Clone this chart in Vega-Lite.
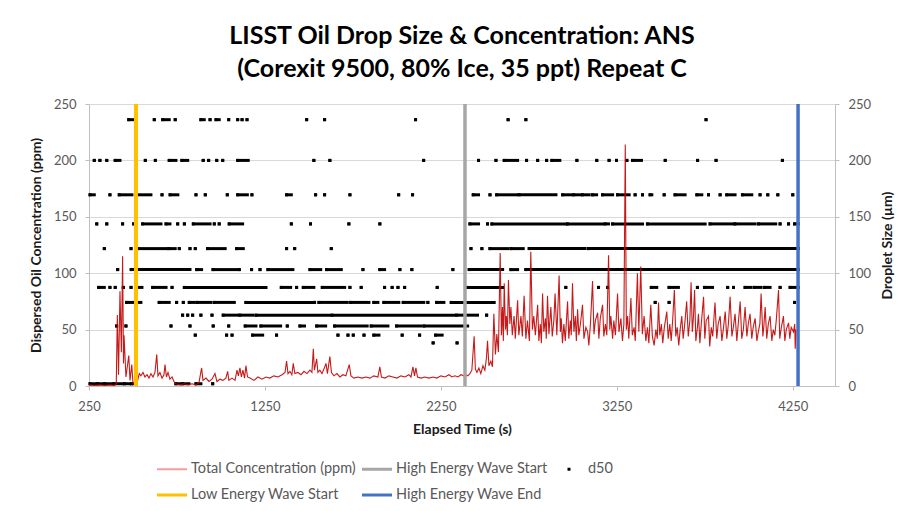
{
"$schema": "https://vega.github.io/schema/vega-lite/v6.json",
"width": 746, "height": 282,
"autosize": {"type": "none"},
"padding": {"left": 89, "top": 104, "right": 69, "bottom": 125},
"background": "white",
"title": {"text": ["LISST Oil Drop Size & Concentration: ANS", "(Corexit 9500, 80% Ice, 35 ppt) Repeat C"], "fontSize": 25, "font": "Lato", "fontWeight": "bold", "color": "#000000", "lineHeight": 33, "offset": 16, "anchor": "middle"},
"config": {"font": "Lato", "view": {"stroke": null},
  "axis": {"domainColor": "#BFBFBF", "tickColor": "#BFBFBF", "tickSize": 4, "labelFontSize": 13, "labelColor": "#595959", "titleFontSize": 14, "titleFontWeight": "bold", "titleColor": "#1a1a1a", "gridColor": "#D9D9D9", "labelPadding": 8, "labelFlush": false}},
"datasets": {
"d50": [
{"t":476,"t2":498,"d":236.1},{"t":621,"t2":621,"d":236.1},{"t":669,"t2":706,"d":236.1},{"t":740,"t2":740,"d":236.1},{"t":886,"t2":905,"d":236.1},{"t":938,"t2":938,"d":236.1},{"t":972,"t2":990,"d":236.1},{"t":1044,"t2":1044,"d":236.1},{"t":1095,"t2":1095,"d":236.1},{"t":1120,"t2":1120,"d":236.1},{"t":1148,"t2":1148,"d":236.1},{"t":1487,"t2":1487,"d":236.1},{"t":1589,"t2":1589,"d":236.1},{"t":2106,"t2":2106,"d":236.1},{"t":2632,"t2":2632,"d":236.1},{"t":2733,"t2":2733,"d":236.1},{"t":3757,"t2":3757,"d":236.1},
{"t":280,"t2":280,"d":200},{"t":312,"t2":312,"d":200},{"t":351,"t2":351,"d":200},{"t":399,"t2":426,"d":200},{"t":570,"t2":570,"d":200},{"t":627,"t2":627,"d":200},{"t":706,"t2":744,"d":200},{"t":778,"t2":811,"d":200},{"t":899,"t2":899,"d":200},{"t":930,"t2":930,"d":200},{"t":976,"t2":976,"d":200},{"t":1010,"t2":1010,"d":200},{"t":1095,"t2":1155,"d":200},{"t":1528,"t2":1528,"d":200},{"t":1619,"t2":1619,"d":200},{"t":2152,"t2":2152,"d":200},{"t":2464,"t2":2464,"d":200},{"t":2563,"t2":2563,"d":200},{"t":2610,"t2":2686,"d":200},{"t":2737,"t2":2737,"d":200},{"t":2800,"t2":2800,"d":200},{"t":2851,"t2":2851,"d":200},{"t":2881,"t2":2926,"d":200},{"t":3023,"t2":3023,"d":200},{"t":3136,"t2":3136,"d":200},{"t":3206,"t2":3206,"d":200},{"t":3248,"t2":3248,"d":200},{"t":3307,"t2":3307,"d":200},{"t":3339,"t2":3390,"d":200},{"t":3525,"t2":3525,"d":200},{"t":3709,"t2":3709,"d":200},{"t":3814,"t2":3814,"d":200},{"t":4191,"t2":4191,"d":200},
{"t":256,"t2":280,"d":169.5},{"t":369,"t2":369,"d":169.5},{"t":422,"t2":494,"d":169.5},{"t":517,"t2":602,"d":169.5},{"t":665,"t2":665,"d":169.5},{"t":711,"t2":755,"d":169.5},{"t":858,"t2":858,"d":169.5},{"t":911,"t2":911,"d":169.5},{"t":1036,"t2":1036,"d":169.5},{"t":1095,"t2":1150,"d":169.5},{"t":1176,"t2":1176,"d":169.5},{"t":1373,"t2":1400,"d":169.5},{"t":1538,"t2":1538,"d":169.5},{"t":1589,"t2":1589,"d":169.5},{"t":1733,"t2":1733,"d":169.5},{"t":2010,"t2":2010,"d":169.5},{"t":2089,"t2":2089,"d":169.5},{"t":2434,"t2":2464,"d":169.5},{"t":2529,"t2":2529,"d":169.5},{"t":2567,"t2":2680,"d":169.5},{"t":2695,"t2":2904,"d":169.5},{"t":2942,"t2":2990,"d":169.5},{"t":3005,"t2":3040,"d":169.5},{"t":3055,"t2":3093,"d":169.5},{"t":3112,"t2":3135,"d":169.5},{"t":3169,"t2":3226,"d":169.5},{"t":3254,"t2":3320,"d":169.5},{"t":3354,"t2":3354,"d":169.5},{"t":3396,"t2":3396,"d":169.5},{"t":3439,"t2":3449,"d":169.5},{"t":3519,"t2":3519,"d":169.5},{"t":3581,"t2":3638,"d":169.5},{"t":3705,"t2":3733,"d":169.5},{"t":3771,"t2":3771,"d":169.5},{"t":3837,"t2":3837,"d":169.5},{"t":3875,"t2":3922,"d":169.5},{"t":3964,"t2":4017,"d":169.5},{"t":4064,"t2":4064,"d":169.5},{"t":4108,"t2":4108,"d":169.5},{"t":4165,"t2":4165,"d":169.5},{"t":4250,"t2":4250,"d":169.5},
{"t":294,"t2":294,"d":143.7},{"t":351,"t2":351,"d":143.7},{"t":441,"t2":441,"d":143.7},{"t":504,"t2":504,"d":143.7},{"t":555,"t2":659,"d":143.7},{"t":688,"t2":710,"d":143.7},{"t":754,"t2":754,"d":143.7},{"t":792,"t2":792,"d":143.7},{"t":843,"t2":938,"d":143.7},{"t":962,"t2":962,"d":143.7},{"t":990,"t2":990,"d":143.7},{"t":1047,"t2":1123,"d":143.7},{"t":1400,"t2":1400,"d":143.7},{"t":1509,"t2":1509,"d":143.7},{"t":1727,"t2":1727,"d":143.7},{"t":1903,"t2":1903,"d":143.7},{"t":2415,"t2":2464,"d":143.7},{"t":2515,"t2":2515,"d":143.7},{"t":2540,"t2":2960,"d":143.7},{"t":2970,"t2":3169,"d":143.7},{"t":3184,"t2":3203,"d":143.7},{"t":3226,"t2":3396,"d":143.7},{"t":3424,"t2":3752,"d":143.7},{"t":3780,"t2":3913,"d":143.7},{"t":3922,"t2":4036,"d":143.7},{"t":4055,"t2":4153,"d":143.7},{"t":4178,"t2":4178,"d":143.7},{"t":4226,"t2":4226,"d":143.7},{"t":4260,"t2":4282,"d":143.7},
{"t":337,"t2":337,"d":121.8},{"t":489,"t2":489,"d":121.8},{"t":527,"t2":688,"d":121.8},{"t":703,"t2":740,"d":121.8},{"t":763,"t2":763,"d":121.8},{"t":824,"t2":824,"d":121.8},{"t":854,"t2":854,"d":121.8},{"t":924,"t2":1024,"d":121.8},{"t":1089,"t2":1127,"d":121.8},{"t":1373,"t2":1373,"d":121.8},{"t":1419,"t2":1419,"d":121.8},{"t":1627,"t2":1627,"d":121.8},{"t":2421,"t2":2421,"d":121.8},{"t":2483,"t2":2483,"d":121.8},{"t":2529,"t2":2629,"d":121.8},{"t":2648,"t2":2718,"d":121.8},{"t":2752,"t2":3070,"d":121.8},{"t":3089,"t2":4282,"d":121.8},
{"t":413,"t2":413,"d":103.2},{"t":490,"t2":824,"d":103.2},{"t":862,"t2":890,"d":103.2},{"t":955,"t2":1089,"d":103.2},{"t":1104,"t2":1104,"d":103.2},{"t":1174,"t2":1174,"d":103.2},{"t":1222,"t2":1222,"d":103.2},{"t":1267,"t2":1409,"d":103.2},{"t":1506,"t2":1567,"d":103.2},{"t":1600,"t2":1684,"d":103.2},{"t":1807,"t2":1807,"d":103.2},{"t":1903,"t2":1930,"d":103.2},{"t":2017,"t2":2017,"d":103.2},{"t":2085,"t2":2085,"d":103.2},{"t":2318,"t2":2318,"d":103.2},{"t":2411,"t2":2601,"d":103.2},{"t":2648,"t2":2686,"d":103.2},{"t":2733,"t2":4282,"d":103.2},
{"t":305,"t2":337,"d":87.4},{"t":369,"t2":369,"d":87.4},{"t":399,"t2":399,"d":87.4},{"t":445,"t2":445,"d":87.4},{"t":489,"t2":489,"d":87.4},{"t":517,"t2":551,"d":87.4},{"t":612,"t2":688,"d":87.4},{"t":722,"t2":722,"d":87.4},{"t":792,"t2":1256,"d":87.4},{"t":1343,"t2":1396,"d":87.4},{"t":1430,"t2":1430,"d":87.4},{"t":1468,"t2":1528,"d":87.4},{"t":1576,"t2":1703,"d":87.4},{"t":1733,"t2":1733,"d":87.4},{"t":1797,"t2":1797,"d":87.4},{"t":1930,"t2":1930,"d":87.4},{"t":1973,"t2":1973,"d":87.4},{"t":2006,"t2":2006,"d":87.4},{"t":2044,"t2":2044,"d":87.4},{"t":2229,"t2":2229,"d":87.4},{"t":2399,"t2":2601,"d":87.4},{"t":2960,"t2":2960,"d":87.4},{"t":3146,"t2":3146,"d":87.4},{"t":3197,"t2":3197,"d":87.4},{"t":3446,"t2":3477,"d":87.4},{"t":3547,"t2":3600,"d":87.4},{"t":3708,"t2":3708,"d":87.4},{"t":3748,"t2":3794,"d":87.4},{"t":3880,"t2":3880,"d":87.4},{"t":3913,"t2":3913,"d":87.4},{"t":3979,"t2":4010,"d":87.4},{"t":4030,"t2":4070,"d":87.4},{"t":4090,"t2":4121,"d":87.4},{"t":4178,"t2":4178,"d":87.4},{"t":4235,"t2":4282,"d":87.4},
{"t":464,"t2":545,"d":74.1},{"t":649,"t2":706,"d":74.1},{"t":748,"t2":748,"d":74.1},{"t":786,"t2":786,"d":74.1},{"t":820,"t2":848,"d":74.1},{"t":864,"t2":943,"d":74.1},{"t":962,"t2":1076,"d":74.1},{"t":1142,"t2":1519,"d":74.1},{"t":1532,"t2":1532,"d":74.1},{"t":1557,"t2":1718,"d":74.1},{"t":1737,"t2":1841,"d":74.1},{"t":1869,"t2":1892,"d":74.1},{"t":1926,"t2":2011,"d":74.1},{"t":2036,"t2":2153,"d":74.1},{"t":2176,"t2":2176,"d":74.1},{"t":2226,"t2":2267,"d":74.1},{"t":2309,"t2":2553,"d":74.1},{"t":3468,"t2":3468,"d":74.1},{"t":3547,"t2":3547,"d":74.1},{"t":4260,"t2":4260,"d":74.1},
{"t":782,"t2":782,"d":62.8},{"t":811,"t2":811,"d":62.8},{"t":839,"t2":839,"d":62.8},{"t":886,"t2":886,"d":62.8},{"t":949,"t2":949,"d":62.8},{"t":1013,"t2":1095,"d":62.8},{"t":1108,"t2":1180,"d":62.8},{"t":1199,"t2":1619,"d":62.8},{"t":1632,"t2":2324,"d":62.8},{"t":2339,"t2":2458,"d":62.8},{"t":2510,"t2":2510,"d":62.8},
{"t":407,"t2":407,"d":53.2},{"t":460,"t2":460,"d":53.2},{"t":716,"t2":716,"d":53.2},{"t":824,"t2":824,"d":53.2},{"t":956,"t2":956,"d":53.2},{"t":1044,"t2":1044,"d":53.2},{"t":1138,"t2":1199,"d":53.2},{"t":1227,"t2":1339,"d":53.2},{"t":1377,"t2":1377,"d":53.2},{"t":1449,"t2":1475,"d":53.2},{"t":1544,"t2":1595,"d":53.2},{"t":1646,"t2":1831,"d":53.2},{"t":1854,"t2":1949,"d":53.2},{"t":1998,"t2":2134,"d":53.2},{"t":2153,"t2":2402,"d":53.2},
{"t":854,"t2":854,"d":45.1},{"t":1032,"t2":1032,"d":45.1},{"t":1063,"t2":1063,"d":45.1},{"t":1180,"t2":1237,"d":45.1},{"t":1316,"t2":1316,"d":45.1},{"t":1665,"t2":1665,"d":45.1},{"t":1722,"t2":1722,"d":45.1},{"t":1752,"t2":1752,"d":45.1},{"t":1813,"t2":1813,"d":45.1},{"t":1869,"t2":1898,"d":45.1},{"t":2030,"t2":2030,"d":45.1},{"t":2129,"t2":2129,"d":45.1},{"t":2220,"t2":2257,"d":45.1},
{"t":2206,"t2":2206,"d":38.2},{"t":2342,"t2":2342,"d":38.2},
{"t":256,"t2":290,"d":2},{"t":300,"t2":330,"d":2},{"t":340,"t2":380,"d":2},{"t":392,"t2":440,"d":2},{"t":452,"t2":480,"d":2},{"t":492,"t2":517,"d":2},{"t":744,"t2":770,"d":2},{"t":782,"t2":818,"d":2},{"t":858,"t2":886,"d":2},{"t":953,"t2":953,"d":2}
],
"conc": [
{"t":250,"c":1},{"t":280,"c":0.5},{"t":310,"c":1},{"t":340,"c":0.5},{"t":370,"c":1},{"t":395,"c":0.5},{"t":405,"c":2},{"t":411,"c":63},{"t":418,"c":10},{"t":426,"c":84},{"t":434,"c":30},{"t":441,"c":115},{"t":446,"c":20},{"t":449,"c":45},{"t":460,"c":8},{"t":476,"c":27},{"t":483,"c":5},{"t":493,"c":19},{"t":500,"c":2},{"t":511,"c":1},{"t":523,"c":3},{"t":536,"c":11},{"t":545,"c":9},{"t":557,"c":12},{"t":568,"c":8},{"t":580,"c":10},{"t":591,"c":7},{"t":602,"c":11},{"t":614,"c":8},{"t":625,"c":12},{"t":635,"c":28},{"t":642,"c":9},{"t":653,"c":12},{"t":665,"c":7},{"t":676,"c":10},{"t":682,"c":19},{"t":690,"c":8},{"t":699,"c":12},{"t":710,"c":6},{"t":722,"c":8},{"t":733,"c":4},{"t":744,"c":2},{"t":767,"c":1},{"t":790,"c":2},{"t":812,"c":1},{"t":835,"c":2},{"t":858,"c":1},{"t":875,"c":3},{"t":890,"c":16},{"t":898,"c":5},{"t":915,"c":7},{"t":932,"c":4},{"t":949,"c":6},{"t":966,"c":11},{"t":977,"c":4},{"t":994,"c":6},{"t":1011,"c":5},{"t":1028,"c":7},{"t":1038,"c":13},{"t":1045,"c":5},{"t":1063,"c":7},{"t":1080,"c":5},{"t":1091,"c":14},{"t":1099,"c":9},{"t":1108,"c":16},{"t":1116,"c":8},{"t":1125,"c":14},{"t":1134,"c":7},{"t":1142,"c":18},{"t":1151,"c":8},{"t":1165,"c":7},{"t":1188,"c":5},{"t":1210,"c":8},{"t":1233,"c":6},{"t":1256,"c":8},{"t":1278,"c":7},{"t":1301,"c":9},{"t":1324,"c":8},{"t":1347,"c":10},{"t":1364,"c":12},{"t":1373,"c":22},{"t":1381,"c":11},{"t":1392,"c":13},{"t":1403,"c":10},{"t":1411,"c":20},{"t":1420,"c":11},{"t":1437,"c":12},{"t":1455,"c":10},{"t":1472,"c":13},{"t":1489,"c":11},{"t":1506,"c":14},{"t":1517,"c":12},{"t":1525,"c":33},{"t":1531,"c":14},{"t":1544,"c":24},{"t":1551,"c":12},{"t":1562,"c":14},{"t":1574,"c":11},{"t":1585,"c":15},{"t":1597,"c":20},{"t":1605,"c":11},{"t":1619,"c":26},{"t":1628,"c":12},{"t":1642,"c":9},{"t":1659,"c":11},{"t":1676,"c":8},{"t":1693,"c":10},{"t":1710,"c":9},{"t":1729,"c":19},{"t":1739,"c":9},{"t":1756,"c":7},{"t":1778,"c":8},{"t":1801,"c":7},{"t":1824,"c":8},{"t":1847,"c":7},{"t":1869,"c":9},{"t":1892,"c":8},{"t":1903,"c":17},{"t":1912,"c":8},{"t":1932,"c":7},{"t":1955,"c":9},{"t":1977,"c":8},{"t":2000,"c":7},{"t":2023,"c":9},{"t":2046,"c":8},{"t":2068,"c":10},{"t":2080,"c":8},{"t":2091,"c":17},{"t":2100,"c":9},{"t":2108,"c":16},{"t":2117,"c":8},{"t":2137,"c":7},{"t":2159,"c":8},{"t":2182,"c":7},{"t":2205,"c":8},{"t":2227,"c":7},{"t":2250,"c":9},{"t":2273,"c":8},{"t":2296,"c":10},{"t":2313,"c":8},{"t":2330,"c":9},{"t":2347,"c":8},{"t":2364,"c":10},{"t":2381,"c":9},{"t":2392,"c":10},{"t":2403,"c":9},{"t":2415,"c":11},{"t":2426,"c":14},{"t":2439,"c":44},{"t":2446,"c":15},{"t":2455,"c":12},{"t":2466,"c":16},{"t":2477,"c":11},{"t":2489,"c":18},{"t":2500,"c":14},{"t":2509,"c":25},{"t":2515,"c":40},{"t":2523,"c":18},{"t":2534,"c":22},{"t":2543,"c":17},{"t":2551,"c":64},{"t":2560,"c":28},{"t":2568,"c":46},{"t":2577,"c":30},{"t":2587,"c":118},{"t":2594,"c":45},{"t":2600,"c":70},{"t":2605,"c":40},{"t":2610,"c":91},{"t":2617,"c":50},{"t":2622,"c":62},{"t":2628,"c":45},{"t":2634,"c":94},{"t":2642,"c":55},{"t":2648,"c":70},{"t":2656,"c":45},{"t":2666,"c":62},{"t":2673,"c":42},{"t":2686,"c":76},{"t":2693,"c":45},{"t":2705,"c":62},{"t":2713,"c":44},{"t":2723,"c":80},{"t":2733,"c":42},{"t":2742,"c":58},{"t":2753,"c":40},{"t":2761,"c":119},{"t":2770,"c":50},{"t":2778,"c":62},{"t":2787,"c":45},{"t":2800,"c":72},{"t":2807,"c":40},{"t":2815,"c":55},{"t":2821,"c":38},{"t":2828,"c":82},{"t":2835,"c":48},{"t":2844,"c":60},{"t":2849,"c":42},{"t":2856,"c":80},{"t":2864,"c":46},{"t":2875,"c":70},{"t":2883,"c":44},{"t":2892,"c":58},{"t":2899,"c":82},{"t":2909,"c":45},{"t":2922,"c":98},{"t":2929,"c":48},{"t":2934,"c":60},{"t":2941,"c":38},{"t":2949,"c":55},{"t":2957,"c":40},{"t":2970,"c":75},{"t":2977,"c":42},{"t":2986,"c":58},{"t":2991,"c":45},{"t":2998,"c":91},{"t":3006,"c":48},{"t":3014,"c":62},{"t":3020,"c":40},{"t":3027,"c":68},{"t":3034,"c":45},{"t":3043,"c":55},{"t":3055,"c":72},{"t":3063,"c":42},{"t":3074,"c":52},{"t":3084,"c":48},{"t":3091,"c":36},{"t":3100,"c":55},{"t":3112,"c":93},{"t":3120,"c":46},{"t":3128,"c":58},{"t":3141,"c":65},{"t":3148,"c":42},{"t":3156,"c":60},{"t":3169,"c":72},{"t":3176,"c":44},{"t":3185,"c":55},{"t":3193,"c":45},{"t":3203,"c":116},{"t":3210,"c":50},{"t":3216,"c":62},{"t":3226,"c":42},{"t":3233,"c":58},{"t":3242,"c":45},{"t":3254,"c":82},{"t":3262,"c":48},{"t":3273,"c":60},{"t":3282,"c":40},{"t":3290,"c":55},{"t":3298,"c":214},{"t":3304,"c":50},{"t":3311,"c":62},{"t":3318,"c":42},{"t":3330,"c":78},{"t":3338,"c":45},{"t":3348,"c":52},{"t":3355,"c":40},{"t":3367,"c":100},{"t":3375,"c":48},{"t":3386,"c":106},{"t":3395,"c":46},{"t":3405,"c":62},{"t":3415,"c":40},{"t":3424,"c":52},{"t":3432,"c":38},{"t":3443,"c":72},{"t":3452,"c":44},{"t":3462,"c":36},{"t":3472,"c":50},{"t":3480,"c":42},{"t":3487,"c":74},{"t":3494,"c":45},{"t":3503,"c":55},{"t":3511,"c":38},{"t":3520,"c":52},{"t":3534,"c":66},{"t":3542,"c":42},{"t":3551,"c":55},{"t":3559,"c":40},{"t":3568,"c":60},{"t":3577,"c":85},{"t":3585,"c":44},{"t":3593,"c":52},{"t":3602,"c":36},{"t":3610,"c":50},{"t":3619,"c":62},{"t":3627,"c":42},{"t":3636,"c":55},{"t":3647,"c":75},{"t":3656,"c":44},{"t":3665,"c":58},{"t":3672,"c":92},{"t":3679,"c":48},{"t":3685,"c":60},{"t":3692,"c":85},{"t":3699,"c":40},{"t":3708,"c":52},{"t":3714,"c":64},{"t":3722,"c":38},{"t":3730,"c":55},{"t":3743,"c":79},{"t":3750,"c":42},{"t":3758,"c":58},{"t":3771,"c":62},{"t":3778,"c":35},{"t":3787,"c":52},{"t":3795,"c":44},{"t":3808,"c":74},{"t":3818,"c":42},{"t":3826,"c":55},{"t":3837,"c":62},{"t":3847,"c":40},{"t":3855,"c":50},{"t":3866,"c":66},{"t":3875,"c":42},{"t":3884,"c":55},{"t":3894,"c":79},{"t":3904,"c":44},{"t":3912,"c":52},{"t":3922,"c":64},{"t":3932,"c":40},{"t":3940,"c":55},{"t":3951,"c":75},{"t":3960,"c":42},{"t":3969,"c":50},{"t":3979,"c":70},{"t":3989,"c":44},{"t":3997,"c":55},{"t":4007,"c":64},{"t":4017,"c":42},{"t":4025,"c":52},{"t":4036,"c":60},{"t":4046,"c":40},{"t":4054,"c":48},{"t":4063,"c":55},{"t":4070,"c":82},{"t":4080,"c":44},{"t":4085,"c":52},{"t":4093,"c":70},{"t":4102,"c":42},{"t":4111,"c":55},{"t":4121,"c":62},{"t":4131,"c":40},{"t":4139,"c":50},{"t":4148,"c":45},{"t":4156,"c":58},{"t":4169,"c":85},{"t":4176,"c":42},{"t":4185,"c":52},{"t":4197,"c":62},{"t":4205,"c":40},{"t":4213,"c":50},{"t":4226,"c":56},{"t":4233,"c":42},{"t":4241,"c":52},{"t":4254,"c":48},{"t":4261,"c":55},{"t":4264,"c":33},{"t":4268,"c":50}
],
"series": [{"series":"Total Concentration (ppm)"},{"series":"High Energy Wave Start"},{"series":"d50"},{"series":"Low Energy Wave Start"},{"series":"High Energy Wave End"}]
},
"layer": [
 {"data": {"name": "d50"},
  "encoding": {
   "x": {"field": "t", "type": "quantitative", "scale": {"domain": [250, 4490], "nice": false, "zero": false}, "axis": {"title": "Elapsed Time (s)", "values": [250,1250,2250,3250,4250], "format": "d", "grid": false, "labelPadding": 10, "titlePadding": 9}},
   "y": {"field": "d", "type": "quantitative", "scale": {"domain": [0, 250], "nice": false}, "axis": {"orient": "right", "title": "Droplet Size (µm)", "values": [0,50,100,150,200,250], "grid": false, "titleAngle": 270, "titleBaseline": "top", "titlePadding": 10, "labelPadding": 9}}
  },
  "layer": [
   {"mark": {"type": "rule", "color": "#000000", "strokeWidth": 3, "strokeCap": "square"}, "encoding": {"x2": {"field": "t2"}}},
   {"mark": {"type": "point", "shape": "square", "size": 9, "filled": true, "color": "#000000", "opacity": 1}}
  ]},
 {"data": {"name": "conc"},
  "mark": {"type": "line", "color": "#C00000", "strokeWidth": 1.1, "opacity": 0.9},
  "encoding": {
   "x": {"field": "t", "type": "quantitative", "scale": {"domain": [250, 4490], "nice": false, "zero": false}, "axis": {"title": "Elapsed Time (s)", "values": [250,1250,2250,3250,4250], "format": "d", "grid": false, "labelPadding": 10, "titlePadding": 9}},
   "y": {"field": "c", "type": "quantitative", "scale": {"domain": [0, 250], "nice": false}, "axis": {"orient": "left", "title": "Dispersed Oil Concentration (ppm)", "values": [0,50,100,150,200,250], "grid": true, "labelPadding": 9, "titlePadding": 10}}
  }},
 {"data": {"values": [{"event": "Low Energy Wave Start", "t": 517}]},
  "mark": {"type": "rule", "color": "#FFC000", "strokeWidth": 4},
  "encoding": {"x": {"field": "t", "type": "quantitative", "scale": {"domain": [250, 4490], "nice": false, "zero": false}, "axis": {"title": "Elapsed Time (s)", "values": [250,1250,2250,3250,4250], "format": "d", "grid": false, "labelPadding": 10, "titlePadding": 9}}}},
 {"data": {"values": [{"event": "High Energy Wave Start", "t": 2387}]},
  "mark": {"type": "rule", "color": "#A6A6A6", "strokeWidth": 3.5},
  "encoding": {"x": {"field": "t", "type": "quantitative", "scale": {"domain": [250, 4490], "nice": false, "zero": false}, "axis": {"title": "Elapsed Time (s)", "values": [250,1250,2250,3250,4250], "format": "d", "grid": false, "labelPadding": 10, "titlePadding": 9}}}},
 {"data": {"values": [{"event": "High Energy Wave End", "t": 4280}]},
  "mark": {"type": "rule", "color": "#4472C4", "strokeWidth": 3.5},
  "encoding": {"x": {"field": "t", "type": "quantitative", "scale": {"domain": [250, 4490], "nice": false, "zero": false}, "axis": {"title": "Elapsed Time (s)", "values": [250,1250,2250,3250,4250], "format": "d", "grid": false, "labelPadding": 10, "titlePadding": 9}}}},
 {"data": {"name": "series"},
  "mark": {"type": "point", "filled": true, "opacity": 0},
  "encoding": {
   "color": {"field": "series", "type": "nominal", "scale": {"domain": ["Total Concentration (ppm)", "High Energy Wave Start", "d50", "Low Energy Wave Start", "High Energy Wave End"], "range": ["#EFA3A3", "#A6A6A6", "#000000", "#FFC000", "#4472C4"]},
     "legend": {"title": null, "orient": "none", "direction": "horizontal", "legendX": 68, "legendY": 350, "columns": 3, "symbolSize": 900, "labelFontSize": 14.5, "labelLimit": 400, "labelColor": "#595959", "rowPadding": 4, "columnPadding": 6, "labelOffset": 4, "symbolStrokeWidth": 0, "symbolOpacity": 1}},
   "shape": {"field": "series", "type": "nominal", "scale": {"domain": ["Total Concentration (ppm)", "High Energy Wave Start", "d50", "Low Energy Wave Start", "High Energy Wave End"], "range": ["M-1,-0.07H1V0.07H-1Z", "M-1,-0.1H1V0.1H-1Z", "M-0.1,-0.1H0.1V0.1H-0.1Z", "M-1,-0.1H1V0.1H-1Z", "M-1,-0.1H1V0.1H-1Z"]},
     "legend": {"title": null, "orient": "none", "direction": "horizontal", "legendX": 68, "legendY": 350, "columns": 3, "symbolSize": 900, "labelFontSize": 14.5, "labelLimit": 400, "labelColor": "#595959", "rowPadding": 4, "columnPadding": 6, "labelOffset": 4, "symbolStrokeWidth": 0, "symbolOpacity": 1}}
  }}
],
"resolve": {"scale": {"y": "independent"}, "axis": {"y": "independent"}}
}
